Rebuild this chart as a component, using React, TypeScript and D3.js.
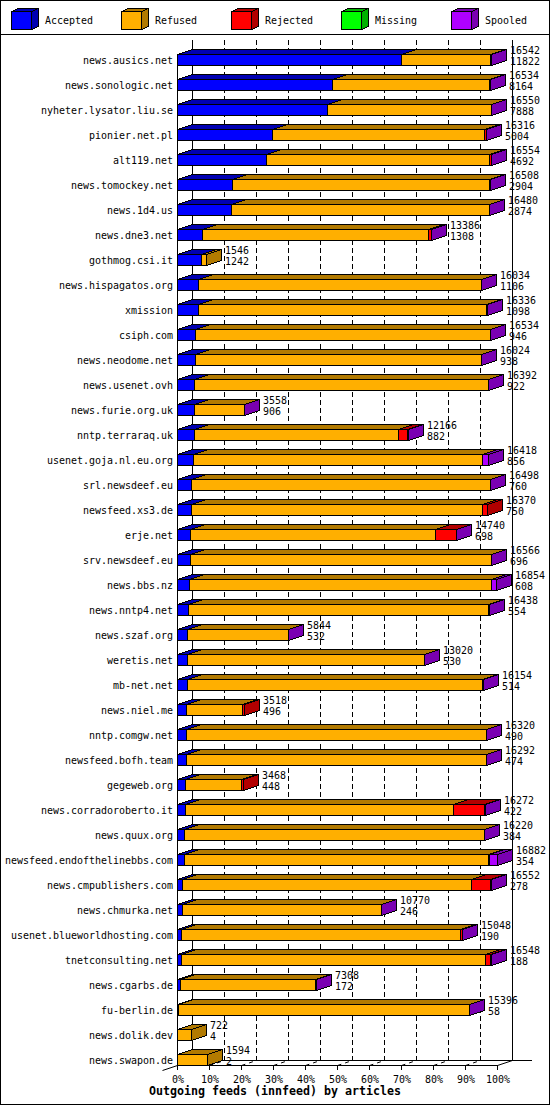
import React from 'react';
import * as d3 from 'd3';

const hosts = [
  'news.ausics.net', 'news.sonologic.net', 'nyheter.lysator.liu.se', 'pionier.net.pl', 'alt119.net',
  'news.tomockey.net', 'news.1d4.us', 'news.dne3.net', 'gothmog.csi.it', 'news.hispagatos.org',
  'xmission', 'csiph.com', 'news.neodome.net', 'news.usenet.ovh', 'news.furie.org.uk',
  'nntp.terraraq.uk', 'usenet.goja.nl.eu.org', 'srl.newsdeef.eu', 'newsfeed.xs3.de', 'erje.net',
  'srv.newsdeef.eu', 'news.bbs.nz', 'news.nntp4.net', 'news.szaf.org', 'weretis.net',
  'mb-net.net', 'news.niel.me', 'nntp.comgw.net', 'newsfeed.bofh.team', 'gegeweb.org',
  'news.corradoroberto.it', 'news.quux.org', 'newsfeed.endofthelinebbs.com', 'news.cmpublishers.com', 'news.chmurka.net',
  'usenet.blueworldhosting.com', 'tnetconsulting.net', 'news.cgarbs.de', 'fu-berlin.de', 'news.dolik.dev',
  'news.swapon.de',
];
const totals = [
  16542, 16534, 16550, 16316, 16554, 16508, 16480, 13386, 1546, 16034,
  16336, 16534, 16024, 16392, 3558, 12166, 16418, 16498, 16370, 14740,
  16566, 16854, 16438, 5844, 13020, 16154, 3518, 16320, 16292, 3468,
  16272, 16220, 16882, 16552, 10770, 15048, 16548, 7308, 15396, 722,
  1594,
];
const accepted = [
  11822, 8164, 7888, 5004, 4692, 2904, 2874, 1308, 1242, 1106,
  1098, 946, 938, 922, 906, 882, 856, 760, 750, 698,
  696, 608, 554, 532, 530, 514, 496, 490, 474, 448,
  422, 384, 354, 278, 246, 190, 188, 172, 58, 4,
  2,
];
const refused = [
  4710, 8290, 8652, 11172, 11772, 13534, 13596, 11948, 304, 14918,
  15228, 15578, 15076, 15460, 2642, 10784, 15242, 15728, 15360, 12922,
  15860, 15946, 15874, 5302, 12480, 15580, 2942, 15820, 15808, 2940,
  14130, 15826, 16048, 15229, 10514, 14748, 16050, 7126, 15328, 718,
  1592,
];
const rejected = [
  0, 70, 0, 130, 80, 60, 0, 120, 0, 0,
  0, 0, 0, 0, 0, 490, 0, 0, 260, 1110,
  0, 0, 0, 0, 0, 0, 80, 0, 0, 80,
  1670, 0, 80, 985, 0, 100, 300, 0, 0, 0,
  0,
];
const missing = [
  0, 0, 0, 0, 0, 0, 0, 0, 0, 0,
  0, 0, 0, 0, 0, 0, 0, 0, 0, 0,
  0, 0, 0, 0, 0, 0, 0, 0, 0, 0,
  0, 0, 0, 0, 0, 0, 0, 0, 0, 0,
  0,
];
const spooled = [
  10, 10, 10, 10, 10, 10, 10, 10, 0, 10,
  10, 10, 10, 10, 10, 10, 320, 10, 0, 10,
  10, 300, 10, 10, 10, 60, 0, 10, 10, 0,
  50, 10, 400, 60, 10, 10, 10, 10, 10, 0,
  0,
];
const legendLabels = ['Accepted', 'Refused', 'Rejected', 'Missing', 'Spooled'];
const tickLabels = ['0%', '10%', '20%', '30%', '40%', '50%', '60%', '70%', '80%', '90%', '100%'];
const title = 'Outgoing feeds (innfeed) by articles';

const FRONT = ['#0000FF', '#FFAF00', '#FF0000', '#00FF00', '#AF00FF'];
const DARK = ['#0000B2', '#B27A00', '#B20000', '#00B200', '#7A00B2'];

const W = 550;
const H = 1105;
const DX = 15;
const DY = 5;
const FONT = "'DejaVu Sans Mono', 'Liberation Mono', monospace";

const pts = (p: [number, number][]) => p.map(([a, b]) => `${a + 0.5},${b + 0.5}`).join(' ');

function MonoText({ x, y, s, bold = false, size = 11, cw = 6 }: { x: number; y: number; s: string; bold?: boolean; size?: number; cw?: number }) {
  return (
    <text
      x={x}
      y={y}
      fontFamily={FONT}
      fontSize={size}
      fontWeight={bold ? 'bold' : 'normal'}
      textLength={s.length * cw}
      lengthAdjust="spacingAndGlyphs"
      fill="#000"
    >
      {s}
    </text>
  );
}

export default function App() {
  const keys = ['accepted', 'refused', 'rejected', 'missing', 'spooled'];
  const table = hosts.map((h, i) => ({
    host: h,
    total: totals[i],
    accepted: accepted[i],
    refused: refused[i],
    rejected: rejected[i],
    missing: missing[i],
    spooled: spooled[i],
  }));
  const stacked = d3.stack<any>().keys(keys)(table);
  const maxTotal = d3.max(totals) as number;
  const x = d3.scaleLinear().domain([0, maxTotal]).range([177, 497]);
  const y = d3.scaleBand<string>().domain(hosts).range([47, 1072]).paddingInner(0.56).paddingOuter(0.28);
  const bw = Math.round(y.bandwidth());

  const wallTop = 40;
  const floorBack = 1060;
  const floorFront = 1065;
  const ticks = tickLabels.map((_, k) => Math.round(x((maxTotal * k) / 10)));

  return (
    <svg width={W} height={H} style={{ position: 'absolute', left: 0, top: 0, background: '#fff' }} shapeRendering="crispEdges">
      <rect x={0} y={0} width={W} height={H} fill="#fff" />
      {/* legend */}
      {legendLabels.map((lab, i) => {
        const lx = 11 + 110 * i;
        const x0 = lx, x1 = lx + 20, y0 = 11, y1 = 29, dx = 7, dy = 3;
        return (
          <g key={lab}>
            <polygon points={pts([[x0, y0], [x1, y0], [x1, y1], [x0, y1]])} fill={FRONT[i]} stroke="#000" />
            <polygon points={pts([[x0, y0], [x0 + dx, y0 - dy], [x1 + dx, y0 - dy], [x1, y0]])} fill={DARK[i]} stroke="#000" />
            <polygon points={pts([[x1, y0], [x1 + dx, y0 - dy], [x1 + dx, y1 - dy], [x1, y1]])} fill={DARK[i]} stroke="#000" />
            <MonoText x={lx + 34} y={24} s={lab} />
          </g>
        );
      })}
      <line x1={0} x2={W} y1={34.5} y2={34.5} stroke="#000" />

      {/* back wall grid */}
      {ticks.map((tx, k) => (
        <line
          key={'g' + k}
          x1={tx + DX + 0.5}
          x2={tx + DX + 0.5}
          y1={wallTop}
          y2={floorBack}
          stroke="#000"
          strokeDasharray={k === 0 || k === ticks.length - 1 ? undefined : '5,3'}
        />
      ))}
      {/* floor */}
      <line x1={ticks[0] + DX} x2={532} y1={floorBack + 0.5} y2={floorBack + 0.5} stroke="#000" />
      <line x1={ticks[0]} x2={ticks[10] + 1} y1={floorFront + 0.5} y2={floorFront + 0.5} stroke="#000" />
      <line x1={ticks[0] - DX + 0.5} y1={floorFront + DY + 0.5} x2={ticks[0] + DX + 0.5} y2={floorBack + 0.5} stroke="#000" shapeRendering="auto" />
      <line x1={ticks[10] + 0.5} y1={floorFront + 0.5} x2={ticks[10] + DX + 0.5} y2={floorBack + 0.5} stroke="#000" shapeRendering="auto" />
      {ticks.map((tx, k) => (
        <g key={'t' + k}>
          <line x1={tx + 0.5} x2={tx + 0.5} y1={floorFront} y2={floorFront + 5} stroke="#000" />
          {k > 0 && k < 10 && (
            <line x1={tx + 0.5} y1={floorFront + 0.5} x2={tx + DX + 0.5} y2={floorBack + 0.5} stroke="#000" strokeDasharray="4,4" shapeRendering="auto" />
          )}
        </g>
      ))}
      <line x1={ticks[0] + 0.5} x2={ticks[0] + 0.5} y1={(y(hosts[0]) as number)} y2={floorFront + 5} stroke="#000" />

      {/* bars */}
      {table.map((row, i) => {
        const yT = Math.round(y(row.host) as number);
        const yB = yT + bw;
        const segs = keys
          .map((k, j) => {
            const s = stacked[j][i];
            return { j, v: (row as any)[k] as number, x0: Math.round(x(s[0])), x1: Math.round(x(s[1])) };
          })
          .filter((s) => s.v > 0);
        const last = segs[segs.length - 1];
        const xEnd = last.x1;
        return (
          <g key={row.host}>
            {segs.map((s) => (
              <g key={s.j}>
                <polygon points={pts([[s.x0, yT], [s.x1, yT], [s.x1, yB], [s.x0, yB]])} fill={FRONT[s.j]} stroke="#000" />
                <polygon points={pts([[s.x0, yT], [s.x0 + DX, yT - DY], [s.x1 + DX, yT - DY], [s.x1, yT]])} fill={DARK[s.j]} stroke="#000" />
              </g>
            ))}
            <polygon
              points={pts([[xEnd, yT], [xEnd + DX, yT - DY], [xEnd + DX, yB - DY], [xEnd, yB]])}
              fill={DARK[last.j]}
              stroke="#000"
            />
          </g>
        );
      })}

      {/* labels */}
      {table.map((row) => {
        const yT = Math.round(y(row.host) as number);
        const xEnd = Math.round(x(row.total));
        return (
          <g key={'l' + row.host}>
            <MonoText x={173 - row.host.length * 6} y={yT + 10} s={row.host} />
            <MonoText x={xEnd + DX + 4} y={yT} s={String(row.total)} />
            <MonoText x={xEnd + DX + 4} y={yT + 11} s={String(row.accepted)} />
          </g>
        );
      })}

      {/* axis labels */}
      {tickLabels.map((t, k) => (
        <MonoText key={t} x={ticks[k] + 1 - t.length * 3} y={1083} s={t} />
      ))}
      <MonoText x={149} y={1095} s={title} bold size={12} cw={7} />

      <rect x={0.5} y={0.5} width={W - 1} height={H - 1} fill="none" stroke="#000" />
    </svg>
  );
}
